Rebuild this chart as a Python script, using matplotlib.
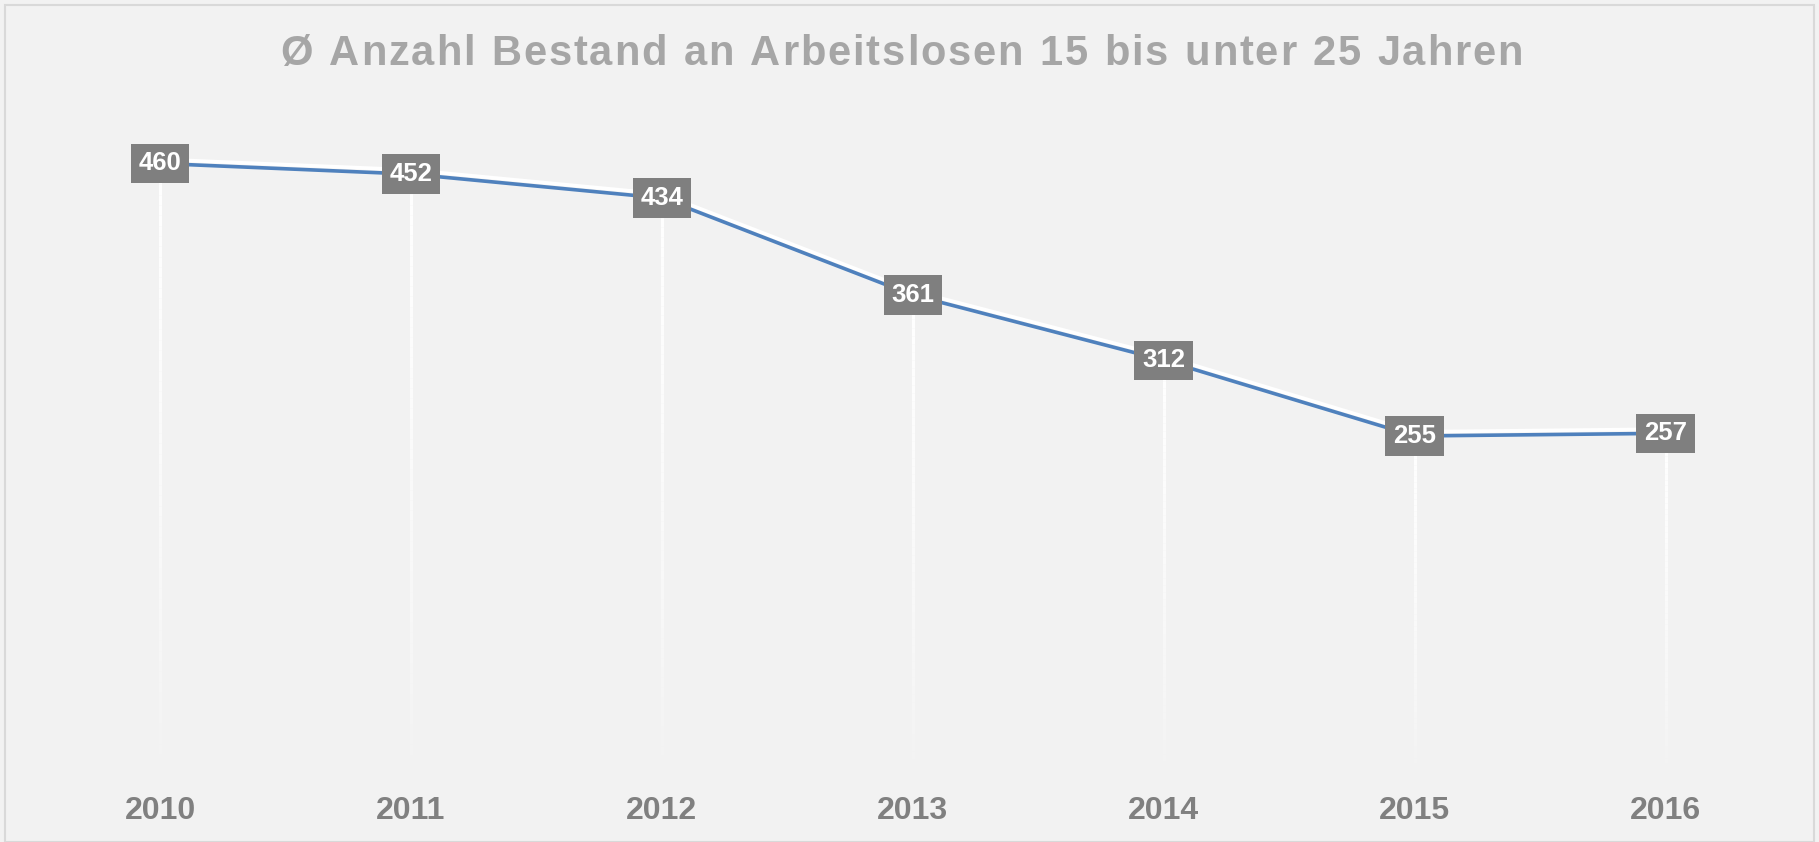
import matplotlib.pyplot as plt
import matplotlib.patheffects as pe
import numpy as np
from matplotlib.collections import LineCollection
from matplotlib.patches import Rectangle

# Daten
jahre = ['2010', '2011', '2012', '2013', '2014', '2015', '2016']
werte = [460, 452, 434, 361, 312, 255, 257]
titel = 'Ø Anzahl Bestand an Arbeitslosen 15 bis unter 25 Jahren'

plt.rcParams['font.family'] = ['Liberation Sans', 'DejaVu Sans']

fig = plt.figure(figsize=(18.19, 8.42), dpi=100, facecolor='#f2f2f2')
ax = fig.add_axes([0.019, 0.0796, 0.9656, 0.7894])
ax.set_facecolor('#f2f2f2')

x = np.arange(len(jahre))

# Fallinien mit Verlauf nach unten
for xi, w in zip(x, werte):
    ys = np.linspace(w, 0, 60)
    segs = [[(xi, ys[i]), (xi, ys[i + 1])] for i in range(len(ys) - 1)]
    alphas = np.linspace(1, 0, len(segs)) ** 0.7
    farben = [(1, 1, 1, a) for a in alphas]
    ax.add_collection(LineCollection(segs, colors=farben, linewidths=2.2, zorder=1))

# Linie mit weissem Schatten
ax.plot(x, werte, color='#4f81bd', lw=2.6, zorder=3,
        path_effects=[pe.SimpleLineShadow(offset=(0, 3), shadow_color='white', alpha=1, rho=1),
                      pe.Normal()])

# Datenbeschriftungen
for xi, w in zip(x, werte):
    ax.text(xi, w, str(w), ha='center', va='center', color='white', fontsize=18.5,
            fontweight='bold', zorder=5,
            bbox=dict(boxstyle='square,pad=0.3', fc='#7f7f7f', ec='none'))

ax.set_xlim(-0.5, len(jahre) - 0.5)
ax.set_ylim(0, 500)
ax.set_xticks(x)
ax.set_xticklabels(jahre, fontsize=23, fontweight='bold', color='#808080')
ax.tick_params(axis='x', length=0, pad=15)
ax.set_yticks([])
for s in ax.spines.values():
    s.set_visible(False)

# Titel mit Zeichenabstand
renderer = fig.canvas.get_renderer()
sperrung = 1.85  # px zwischen Zeichen
breiten = []
for ch in titel:
    t = fig.text(0, 0, ch if ch != ' ' else 'n', fontsize=30, fontweight='bold')
    bb = t.get_window_extent(renderer)
    breiten.append(bb.width if ch != ' ' else bb.width * 0.5)
    t.remove()
gesamt = sum(breiten) + sperrung * (len(titel) - 1)
W = fig.bbox.width
pos = W / 2 - gesamt / 2 - 8
for ch, b in zip(titel, breiten):
    fig.text(pos / W, 0.936, ch, ha='left', va='center', fontsize=30,
             fontweight='bold', color='#a6a6a6')
    pos += b + sperrung

fig.patches.append(Rectangle((0.003, 0.0), 0.994, 0.994, transform=fig.transFigure,
                             fill=False, ec='#d9d9d9', lw=1.5))

fig.savefig('out.png', dpi=100, facecolor=fig.get_facecolor())
